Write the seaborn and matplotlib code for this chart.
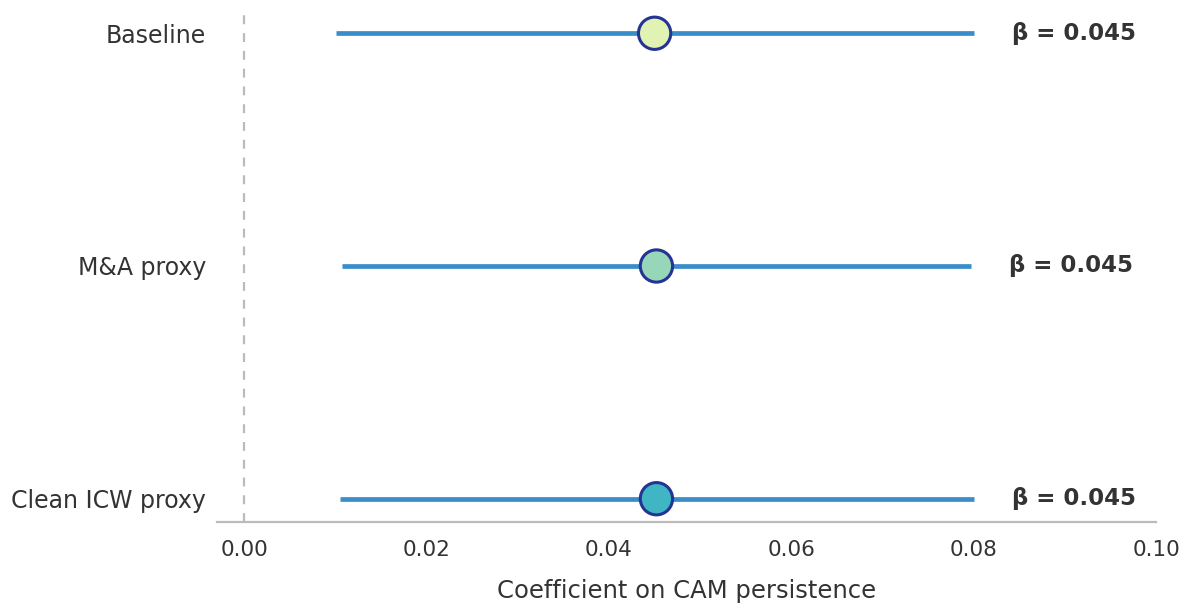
import numpy as np
import pandas as pd
import matplotlib
matplotlib.use("Agg")
import matplotlib.pyplot as plt
import seaborn as sns

models = ["Baseline", "M&A proxy", "Clean ICW proxy"]
coef = [0.045, 0.0452, 0.0452]
ci_low = [0.0100, 0.0107, 0.0105]
ci_high = [0.0800, 0.0797, 0.0800]
labels = ["β = 0.045", "β = 0.045", "β = 0.045"]

sns.set_theme(style="white")
plt.rcParams["font.family"] = ["DejaVu Sans"]

pal = sns.color_palette("YlGnBu", 5)
df = pd.DataFrame({"model": models, "coef": coef, "lo": ci_low, "hi": ci_high})
df["pos"] = np.arange(len(df))

fig = plt.figure(figsize=(11.89, 6.05), dpi=100)
ax = fig.add_axes([0.1825, 0.1372, 0.7898, 0.8463])

ax.axvline(0, color="#bbbbbb", linestyle=(0, (4, 4)), linewidth=1.6, zorder=1)
ax.hlines(df["pos"], df["lo"], df["hi"], color="#3a8dc8", linewidth=3.4, zorder=2)
sns.scatterplot(data=df, x="coef", y="pos", hue="model", palette=pal[:3],
                s=540, edgecolor="#253494", linewidth=2.2, legend=False,
                zorder=3, ax=ax)

for i, row in df.iterrows():
    ax.text(row["hi"] + 0.0042, row["pos"], labels[i], ha="left", va="center",
            fontsize=16.5, fontweight="bold", color="#333333")

ax.set_xlim(-0.003, 0.10)
ax.set_ylim(2.1, -0.1)
ax.set_yticks(df["pos"])
ax.set_yticklabels(models, fontsize=17, color="#333333")
ax.set_xticks(np.arange(0, 0.101, 0.02))
ax.set_xticklabels([f"{v:.2f}" for v in np.arange(0, 0.101, 0.02)], fontsize=15.5, color="#333333")
ax.tick_params(axis="x", length=5, width=1.2, color="#555555", pad=8)
ax.tick_params(axis="y", length=0, pad=8)
ax.set_xlabel("Coefficient on CAM persistence", fontsize=17.5, color="#333333", labelpad=14)
ax.set_ylabel("")
sns.despine(ax=ax, left=True)
ax.spines["bottom"].set_color("#bbbbbb")
ax.spines["bottom"].set_linewidth(1.6)

fig.savefig("out.png", dpi=100)
